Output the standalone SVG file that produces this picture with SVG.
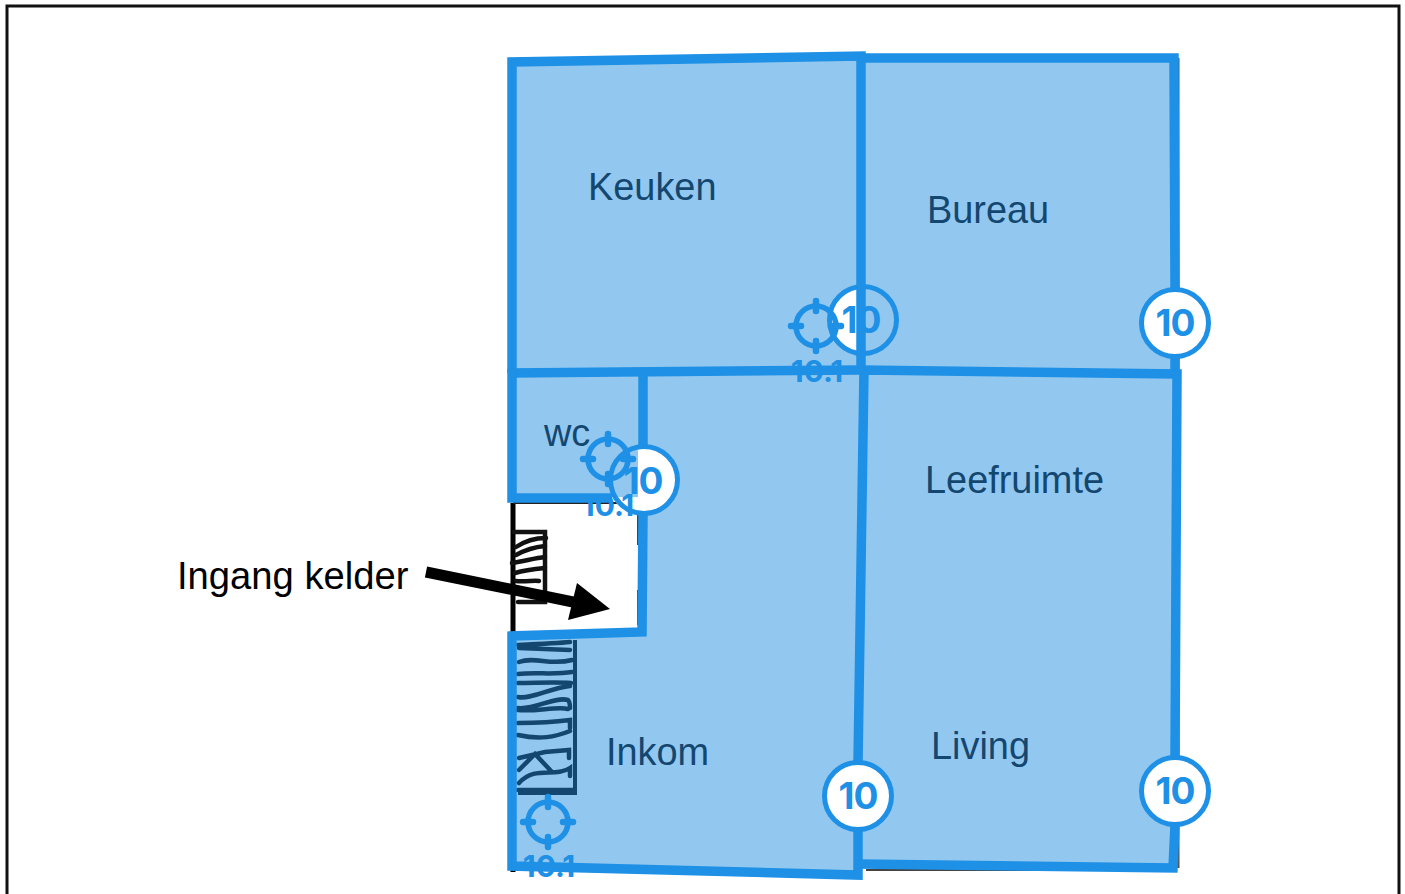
<svg xmlns="http://www.w3.org/2000/svg" width="1405" height="894" viewBox="0 0 1405 894">
<style>
.fill{fill:#92c8f0}
.wall{fill:none;stroke:#1e90e6;stroke-width:9.5;stroke-linejoin:miter}
.lab{font-family:"Liberation Sans",Arial,sans-serif;font-size:37.9px;fill:#14476f}
.ring{fill:none;stroke:#1e90e6;stroke-width:5}
.num{font-family:"Inter","Liberation Sans",sans-serif;font-weight:700;font-size:37px;fill:#1e90e6;text-anchor:middle;letter-spacing:-1px}
.tnum{font-family:"Inter","Liberation Sans",sans-serif;font-weight:700;font-size:30px;fill:#1e90e6;text-anchor:middle}
.tick{stroke:#1e90e6;stroke-width:6.5;stroke-linecap:round}
.tc{fill:none;stroke:#1e90e6;stroke-width:5.5}
.sk{fill:none;stroke:#111;stroke-width:4.5;stroke-linecap:round}
.sk2{fill:none;stroke:#14476f;stroke-width:4.5;stroke-linecap:round}
</style>
<defs>
<g id="target"><circle r="20" class="tc"/><path class="tick" d="M0-25V-15M0 25V15M-25 0H-15M25 0H15"/></g>
</defs>
<rect width="1405" height="894" fill="#fff"/>
<path d="M7 894V6H1399V894" fill="none" stroke="#111" stroke-width="3"/>

<g id="sketch">
<path d="M513 503V872" fill="none" stroke="#000" stroke-width="5"/>
<path d="M513 503H640" fill="none" stroke="#222" stroke-width="2"/>
<path d="M1178 58V868" fill="none" stroke="#555" stroke-width="3"/>
<path d="M859 378V440M638 378V410M638 500V545M638 590V625M700 868H855M756 60H800M866 870H1172" fill="none" stroke="#444" stroke-width="2"/>
<g id="stair-top">
<path class="sk" d="M514 532H545V602H518"/>
<path class="sk" d="M516 547C525 541 535 538 546 538M516 555C525 550 535 547 545 546M512 563C525 561 535 558 545 557M515 573C525 570 535 569 545 568M516 581C525 582 535 580 539 581"/>
</g>
</g>

<g id="fills">
<circle cx="863" cy="320" r="34" fill="#fff"/>
<circle cx="644" cy="480" r="34" fill="#fff"/>
<polygon class="fill" points="512,62 861,56 861,370 512,373"/>
<polygon class="fill" points="861,58 1174,58 1175,372 861,370"/>
<polygon class="fill" points="512,377 643,376 643,498 512,498"/>
<polygon class="fill" points="643,375 861,372 858,875 512,866 512,636 642,632"/>
<polygon class="fill" points="864,370 1177,374 1173,868 858,864"/>
<path d="M644 446A34 34 0 0 1 644 514A34 34 0 0 1 612 497L638 497V450Z" fill="#fff"/>
<path d="M863 286A34 34 0 0 0 863 354Z" fill="#fff"/>
</g>

<g id="stair-bottom">
<path d="M575 640V793H518" fill="none" stroke="#14476f" stroke-width="4"/>
<path class="sk2" d="M518 645C540 644 560 643 570 642M519 648L570 650M519 662C535 656 550 666 572 660M518 674C535 672 555 675 572 672M518 683C535 683 555 682 571 683M518 697C530 700 550 688 570 686M518 708C535 710 555 696 568 700C570 702 570 705 570 708M518 710C535 712 558 706 568 709M518 723C535 723 555 722 570 720V728M518 735C540 740 555 737 570 731M519 758L545 752L569 750V758M519 770L535 754L552 772M519 783C535 765 555 778 570 768V776M518 790H574"/>
</g>

<g id="targets">
<use href="#target" x="816" y="326"/>
<use href="#target" x="608" y="459"/>
<use href="#target" x="548" y="822"/>
<text class="tnum" x="817" y="382">10.1</text>
<text class="tnum" x="608" y="516">10.1</text>
<text class="tnum" x="549" y="877">10.1</text>
</g>

<g id="badge-white-text">
<circle class="ring" cx="863" cy="320" r="33.5"/>
<text class="num" x="861" y="333">10</text>
<circle class="ring" cx="644" cy="480" r="33.5"/>
<text class="num" x="643" y="494">10</text>
</g>

<g id="connectors">
<path class="wall" d="M512 373V62L861 56V371"/>
<path class="wall" d="M508 373L861 370"/>
<path class="wall" d="M861 58H1174L1175 290M1175 356V372"/>
<path class="wall" d="M512 369V498H612"/>
<path class="wall" d="M643 374V446M643 514L642 632L512 636V866L858 875L858 830"/>
<path class="wall" d="M858 763L864 370L1177 374L1175 757M1175 825L1173 868L858 864"/>
<path d="M426 572L578 603" fill="none" stroke="#000" stroke-width="11"/>
<polygon points="610,609 568,620 577,583" fill="#000"/>
</g>

<g id="node-keuken"><text class="lab" x="588" y="200">Keuken</text></g>
<g id="node-bureau"><text class="lab" x="927" y="223">Bureau</text></g>
<g id="node-wc"><text class="lab" x="544" y="446">wc</text></g>
<g id="node-leefruimte"><text class="lab" x="925" y="493">Leefruimte</text></g>
<g id="node-living"><text class="lab" x="931" y="759">Living</text></g>
<g id="node-inkom"><text class="lab" x="606" y="765">Inkom</text></g>
<g id="node-ingang"><text class="lab" x="177" y="589" style="fill:#000;font-size:38.2px">Ingang kelder</text></g>

<g id="badges">
<g><circle cx="1175" cy="323" r="33.5" fill="#fff" stroke="#1e90e6" stroke-width="5"/><text class="num" x="1175" y="336">10</text></g>
<g><circle cx="858" cy="796" r="33.5" fill="#fff" stroke="#1e90e6" stroke-width="5"/><text class="num" x="858" y="809">10</text></g>
<g><circle cx="1175" cy="791" r="33.5" fill="#fff" stroke="#1e90e6" stroke-width="5"/><text class="num" x="1175" y="804">10</text></g>
</g>
</svg>
